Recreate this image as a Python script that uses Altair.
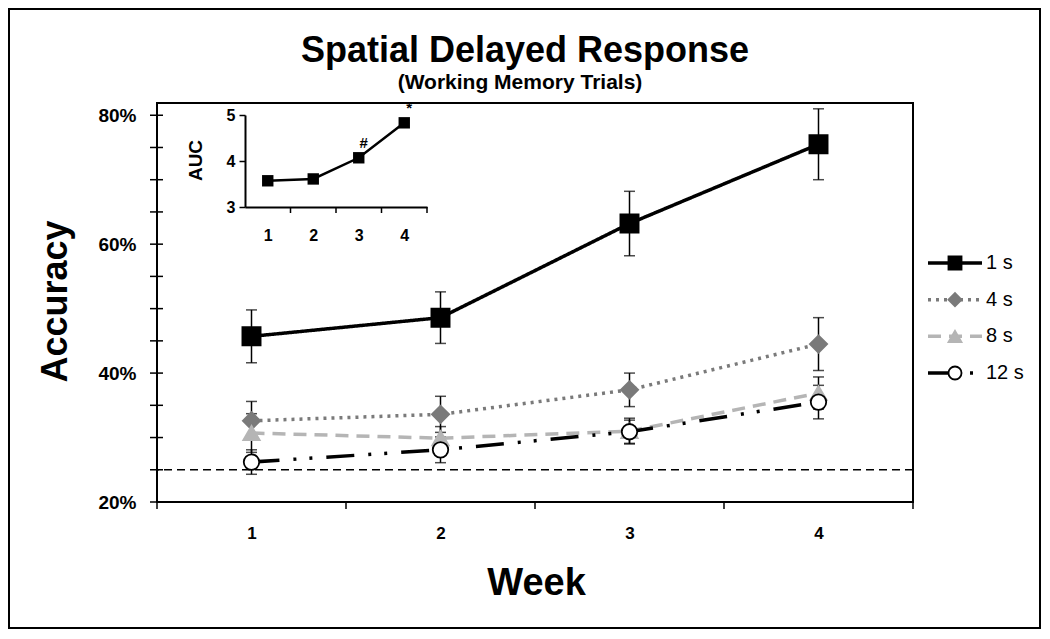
import altair as alt
import pandas as pd

F = "Liberation Sans"

# ---------------- data ----------------
title_text = "Spatial Delayed Response"
subtitle_text = "(Working Memory Trials)"
weeks = [1, 2, 3, 4]
series = ["1 s", "4 s", "8 s", "12 s"]
acc_1s = [45.7, 48.6, 63.2, 75.5]
se_1s = [4.1, 4.0, 5.0, 5.5]
acc_4s = [32.6, 33.6, 37.4, 44.5]
se_4s = [3.0, 2.8, 2.6, 4.1]
acc_8s = [30.7, 29.9, 31.0, 36.9]
se_8s = [3.0, 1.8, 2.0, 2.5]
acc_12s = [26.2, 28.1, 30.9, 35.5]
se_12s = [1.9, 2.0, 1.8, 2.6]
chance = 25
y_major = [20, 40, 60, 80]
y_minor = [20, 25, 30, 35, 40, 45, 50, 55, 60, 65, 70, 75, 80]
x_bounds = [0.5, 1.5, 2.5, 3.5, 4.5]

auc = [3.57, 3.61, 4.07, 4.83]
auc_marks = ["", "", "#", "*"]
auc_ticks = [3, 4, 5]
auc_bounds = [1.5, 2.5, 3.5, 4.5]

rows = []
for name, acc, se in zip(series, [acc_1s, acc_4s, acc_8s, acc_12s], [se_1s, se_4s, se_8s, se_12s]):
    for w, a, s in zip(weeks, acc, se):
        rows.append({"week": w, "series": name, "acc": a, "lo": a - s, "hi": a + s})
df = pd.DataFrame(rows)

# ---------------- scales ----------------
xs = alt.Scale(domain=[0.5, 4.5], nice=False, zero=False)
ys = alt.Scale(domain=[20, 81.9], nice=False, zero=False)
stroke_scale = alt.Scale(domain=series, range=["#000000", "#7a7a7a", "#b5b5b5", "#000000"])
fill_scale = alt.Scale(domain=series, range=["#000000", "#7a7a7a", "#b5b5b5", "#ffffff"])
dash_scale = alt.Scale(domain=series, range=[[1, 0], [3, 5], [13, 8], [28, 14, 3, 13, 3, 14]])
shape_scale = alt.Scale(domain=series, range=["square", "diamond", "triangle-up", "circle"])
size_scale = alt.Scale(domain=series, range=[330, 240, 230, 230])

x_axis = alt.Axis(values=weeks, ticks=False, tickSize=0, domain=False, grid=False,
                  labelFontSize=17, labelFontWeight="bold", labelPadding=23, labelColor="black",
                  labelOverlap=False,
                  title="Week", titleFontSize=38, titleFontWeight="bold", titleColor="black",
                  titleX=379, titleY=81, titleAlign="center", titleBaseline="middle")
y_axis = alt.Axis(values=y_major, labelExpr="datum.value + '%'", ticks=False, tickSize=0,
                  domain=False, grid=False, labelFontSize=19, labelFontWeight="bold",
                  labelPadding=21, labelColor="black", labelOverlap=False,
                  title="Accuracy", titleFontSize=36, titleFontWeight="bold", titleColor="black",
                  titleX=-102, titleY=198, titleAngle=-90, titleAlign="center",
                  titleBaseline="middle")

X = alt.X("week:Q", scale=xs, axis=x_axis)

# ---------------- main layers ----------------
one = pd.DataFrame({"a": [0]})
border = alt.Chart(one).mark_rect(
    fillOpacity=0, stroke="black", strokeWidth=2
).encode(x=alt.value(-148), x2=alt.value(883), y=alt.value(-94), y2=alt.value(525))

title_mark = alt.Chart(pd.DataFrame({"t": [title_text]})).mark_text(
    fontSize=36, fontWeight="bold", color="black", align="center", baseline="middle"
).encode(x=alt.value(368), y=alt.value(-52), text="t:N")
subtitle_mark = alt.Chart(pd.DataFrame({"t": [subtitle_text]})).mark_text(
    fontSize=21, fontWeight="bold", color="black", align="center", baseline="middle"
).encode(x=alt.value(363), y=alt.value(-20), text="t:N")

chance_rule = alt.Chart(one).mark_rule(
    color="black", strokeWidth=1.5, strokeDash=[8, 5]
).encode(y=alt.Y(datum=chance, scale=ys, axis=y_axis))

ytick_rules = alt.Chart(pd.DataFrame({"t": y_minor})).mark_rule(
    color="black", strokeWidth=1.5
).encode(y=alt.Y("t:Q", scale=ys, axis=y_axis), x=alt.value(-7), x2=alt.value(6))

xtick_rules = alt.Chart(pd.DataFrame({"b": x_bounds})).mark_rule(
    color="black", strokeWidth=1.5
).encode(x=alt.X("b:Q", scale=xs, axis=x_axis), y=alt.value(399), y2=alt.value(406))

err = alt.Chart(df).mark_rule(color="black", strokeWidth=1.5).encode(
    x=X, y=alt.Y("lo:Q", scale=ys, axis=y_axis), y2="hi:Q")
cap_lo = alt.Chart(df).mark_tick(orient="horizontal", color="black", size=11, thickness=1.5).encode(
    x=X, y=alt.Y("lo:Q", scale=ys, axis=y_axis))
cap_hi = alt.Chart(df).mark_tick(orient="horizontal", color="black", size=11, thickness=1.5).encode(
    x=X, y=alt.Y("hi:Q", scale=ys, axis=y_axis))

lines = alt.Chart(df).mark_line(strokeWidth=3.5).encode(
    x=X, y=alt.Y("acc:Q", scale=ys, axis=y_axis),
    stroke=alt.Stroke("series:N", scale=stroke_scale, legend=None),
    strokeDash=alt.StrokeDash("series:N", scale=dash_scale, legend=None),
)
points = alt.Chart(df).mark_point(filled=True, opacity=1, strokeWidth=1.8).encode(
    x=X, y=alt.Y("acc:Q", scale=ys, axis=y_axis),
    shape=alt.Shape("series:N", scale=shape_scale, legend=None),
    fill=alt.Fill("series:N", scale=fill_scale, legend=None),
    stroke=alt.Stroke("series:N", scale=stroke_scale, legend=None),
    size=alt.Size("series:N", scale=size_scale, legend=None),
)

main = alt.layer(border, title_mark, subtitle_mark, chance_rule, ytick_rules, xtick_rules,
                 err, cap_lo, cap_hi, lines, points)

# ---------------- inset ----------------
inset_df = pd.DataFrame({"week": weeks, "auc": auc, "mark": auc_marks})
ixs = alt.Scale(domain=[0.5, 4.5], range=[88, 270], nice=False, zero=False)
iys = alt.Scale(domain=[3, 5], range=[104, 12], nice=False, zero=False)
ix_axis = alt.Axis(values=weeks, orient="bottom", offset=-295, ticks=False, tickSize=0,
                   domain=True, domainColor="black", domainWidth=2, grid=False,
                   labelFontSize=16, labelFontWeight="bold", labelColor="black",
                   labelPadding=20, labelOverlap=False, title="")
iy_axis = alt.Axis(values=auc_ticks, labelExpr="datum.value + ''", orient="left", offset=-88,
                   tickSize=6, tickColor="black", tickWidth=1.5, domain=True,
                   domainColor="black", domainWidth=2, grid=False, labelOverlap=False,
                   labelFontSize=16, labelFontWeight="bold", labelColor="black", labelPadding=4,
                   title="AUC", titleFontSize=19, titleFontWeight="bold", titleColor="black",
                   titleX=-50, titleY=57, titleAngle=-90, titleAlign="center",
                   titleBaseline="middle")
IX = alt.X("week:Q", scale=ixs, axis=ix_axis)
IY = alt.Y("auc:Q", scale=iys, axis=iy_axis)

inset_line = alt.Chart(inset_df).mark_line(color="black", strokeWidth=2.5).encode(x=IX, y=IY)
inset_pts = alt.Chart(inset_df).mark_point(shape="square", filled=True, color="black",
                                           size=130, opacity=1).encode(x=IX, y=IY)
inset_txt = alt.Chart(inset_df).mark_text(fontSize=15, fontWeight="bold", dx=5, dy=-15,
                                          color="black").encode(x=IX, y=IY, text="mark:N")
inset_ticks = alt.Chart(pd.DataFrame({"b": auc_bounds})).mark_rule(
    color="black", strokeWidth=1.5
).encode(x=alt.X("b:Q", scale=ixs, axis=ix_axis), y=alt.value(104), y2=alt.value(110))

inset = alt.layer(inset_line, inset_pts, inset_txt, inset_ticks)

# ---------------- legend ----------------
leg_df = pd.DataFrame({"series": series})
LY = alt.Y("series:N", scale=alt.Scale(type="point", domain=series, range=[160, 270], padding=0),
           axis=None)
leg_lines = alt.Chart(leg_df).mark_rule(strokeWidth=3.5).encode(
    y=LY, x=alt.value(771), x2=alt.value(825),
    stroke=alt.Stroke("series:N", scale=stroke_scale, legend=None),
    strokeDash=alt.StrokeDash("series:N", scale=dash_scale, legend=None),
)
leg_pts = alt.Chart(leg_df).mark_point(filled=True, opacity=1, size=170, strokeWidth=1.8).encode(
    y=LY, x=alt.value(798),
    shape=alt.Shape("series:N", scale=shape_scale, legend=None),
    fill=alt.Fill("series:N", scale=fill_scale, legend=None),
    stroke=alt.Stroke("series:N", scale=stroke_scale, legend=None),
)
leg_txt = alt.Chart(leg_df).mark_text(align="left", baseline="middle", fontSize=20,
                                      color="black").encode(y=LY, x=alt.value(829),
                                                            text="series:N")
legend = alt.layer(leg_lines, leg_pts, leg_txt)

chart = alt.layer(main, inset, legend).resolve_scale(
    x="independent", y="independent"
).properties(
    width=756, height=399,
    padding={"left": 149, "top": 95, "right": 129, "bottom": 129},
    autosize=alt.AutoSizeParams(type="none"),
    background="white",
).configure(font=F).configure_view(stroke="black", strokeWidth=2)

chart.save("out.html", embed_options={"renderer": "svg", "actions": False})
